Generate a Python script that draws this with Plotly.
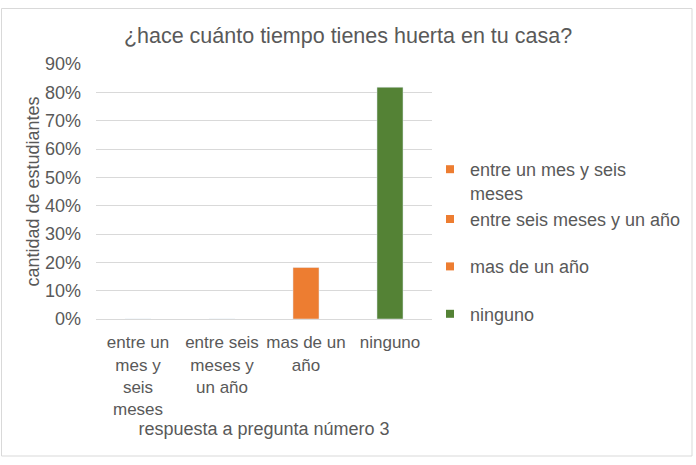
import plotly.graph_objects as go

categories = ["entre un mes y seis meses", "entre seis meses y un año", "mas de un año", "ninguno"]
values = [0.0, 0.0, 0.1818, 0.8182]
tick_labels = ["entre un<br>mes y<br>seis<br>meses", "entre seis<br>meses y<br>un año", "mas de un<br>año", "ninguno"]
legend_labels = ["entre un mes y seis<br>meses", "entre seis meses y un año", "mas de un año", "ninguno"]
colors = ["#ED7D31", "#ED7D31", "#ED7D31", "#548235"]
groups = ["g1", "g1", "g2", "g3"]

TXT = "#595959"
FONT = "Liberation Sans, Arial, sans-serif"

W, H = 696, 465
L, R, T, B = 96, 432, 64, 319

fig = go.Figure()
for cat, val, col in zip(categories, values, colors):
    fig.add_trace(go.Bar(x=[cat], y=[val], marker_color=col, width=0.31, showlegend=False))
for lab, col, g in zip(legend_labels, colors, groups):
    fig.add_trace(go.Scatter(x=[None], y=[None], mode="markers", name=lab, legendgroup=g,
                             marker=dict(symbol="square", size=8, color=col)))

def px_x(p):
    return (p - L) / (R - L)

def px_y(p):
    return (B - p) / (B - T)

fig.update_layout(
    width=W, height=H,
    margin=dict(l=L, r=W - R, t=T, b=H - B, autoexpand=False),
    paper_bgcolor="white", plot_bgcolor="white",
    barmode="overlay",
    font=dict(family=FONT, size=18, color=TXT),
    title=dict(text="¿hace cuánto tiempo tienes huerta en tu casa?", x=0.5, xanchor="center",
               y=1 - 35 / H, yanchor="middle", yref="container",
               font=dict(size=21.5, color=TXT, family=FONT)),
    xaxis=dict(categoryorder="array", categoryarray=categories, tickmode="array",
               tickvals=categories, ticktext=tick_labels, showgrid=False,
               showline=True, linecolor="#d9d9d9", linewidth=1, ticks="",
               ticklabelstandoff=8,
               tickfont=dict(size=17, color=TXT),
               title=dict(text="respuesta a pregunta número 3", font=dict(size=18, color=TXT), standoff=2)),
    yaxis=dict(range=[0, 0.9], dtick=0.1, tickformat=".0%", showgrid=True, gridcolor="#d9d9d9",
               gridwidth=1, zeroline=False, ticks="", tickfont=dict(size=18, color=TXT),
               ticklabelstandoff=14,
               title=dict(text="cantidad de estudiantes", font=dict(size=18, color=TXT), standoff=0)),
    legend=dict(x=px_x(430), xanchor="left", y=px_y(151), yanchor="top", valign="top",
                tracegroupgap=21, font=dict(size=18, color=TXT), bgcolor="rgba(0,0,0,0)"),
    shapes=[dict(type="rect", xref="paper", yref="paper",
                 x0=px_x(1.5), x1=px_x(692), y0=px_y(456), y1=px_y(8.5),
                 line=dict(color="#d9d9d9", width=1), fillcolor="rgba(0,0,0,0)", layer="below")],
)

fig.write_html("out.html")
